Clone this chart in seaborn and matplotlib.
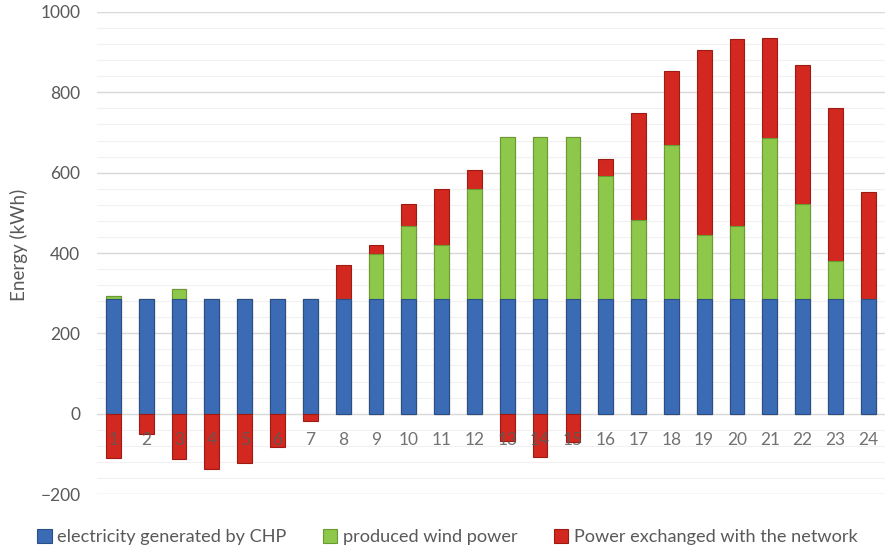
import numpy as np
import pandas as pd
import matplotlib
matplotlib.use("Agg")
import matplotlib.pyplot as plt
import seaborn as sns
from matplotlib.patches import Patch

# Hourly energy balance (kWh)
hours = list(range(1, 25))
chp = [285] * 24
wind = [8, 0, 25, 0, 0, 0, 0, 0, 113, 181, 134, 274,
        403, 403, 403, 306, 198, 383, 160, 183, 402, 238, 96, 0]
network = [-110, -50, -112, -137, -122, -82, -18, 86, 21, 57, 140, 47,
           -67, -107, -70, 44, 265, 184, 461, 465, 248, 346, 381, 268]

series_labels = ["electricity generated by CHP", "produced wind power",
                 "Power exchanged with the network"]
colors = {"chp": "#3A6BB4", "wind": "#8DC84A", "net": "#D2281F"}
edges = {"chp": "#2A4F86", "wind": "#6A9A33", "net": "#9E1B14"}

df = pd.DataFrame({"hour": hours, "chp": chp, "wind": wind, "net": network})
df["chp_wind"] = df["chp"] + df["wind"]
df["total_pos"] = df["chp_wind"] + df["net"].clip(lower=0)
df["neg"] = df["net"].where(df["net"] < 0)   # only hours with export
df["hour_lbl"] = df["hour"].astype(str)

sns.set_theme(style="white")
plt.rcParams["font.family"] = ["Lato", "DejaVu Sans"]
text_gray = "#595959"

fig = plt.figure(figsize=(8.86, 5.5), dpi=100)
ax = fig.add_axes([0.1095, 0.1018, 0.889, 0.8764])

# Minor and major horizontal grid
for v in np.arange(-200, 1001, 40):
    ax.axhline(v, color="#F1F1F1", lw=0.8, zorder=0)
for v in np.arange(-200, 1001, 200):
    ax.axhline(v, color="#D9D9D9", lw=1.0, zorder=0.5)

# Stacked columns drawn as overlapping cumulative layers
bw = 0.45
layers = [("total_pos", "net"), ("chp_wind", "wind"), ("chp", "chp"), ("neg", "net")]
for col, key in layers:
    sns.barplot(data=df, x="hour_lbl", y=col, color=colors[key], width=bw,
                saturation=1, edgecolor=edges[key], linewidth=0.8,
                ax=ax, zorder=2, errorbar=None)

ax.set_ylim(-200, 1000)
ax.set_xlim(-0.5, 23.5)
ax.set_yticks(np.arange(-200, 1001, 200))
ax.set_xlabel("")
ax.set_ylabel("")
for s in ax.spines.values():
    s.set_visible(False)
ax.spines["bottom"].set_position(("data", 0))
ax.xaxis.set_zorder(5)
ax.tick_params(axis="x", length=0, pad=13, labelsize=12.5, labelcolor=text_gray)
ax.tick_params(axis="y", length=0, pad=12, labelsize=12.5, labelcolor=text_gray)
for t in ax.get_xticklabels():
    t.set_alpha(0.85)

fig.text(0.021, 0.555, "Energy (kWh)", rotation=90, ha="center", va="center",
         fontsize=13.5, color=text_gray)

handles = [Patch(facecolor=colors[k], edgecolor=edges[k], lw=0.8)
           for k in ("chp", "wind", "net")]
fig.legend(handles, series_labels, loc="center", bbox_to_anchor=(0.505, 0.024),
           ncol=3, frameon=False, fontsize=13.1, labelcolor=text_gray,
           handlelength=0.8, handleheight=0.8, handletextpad=0.3,
           columnspacing=2.0)

fig.savefig("out.png", dpi=100)
